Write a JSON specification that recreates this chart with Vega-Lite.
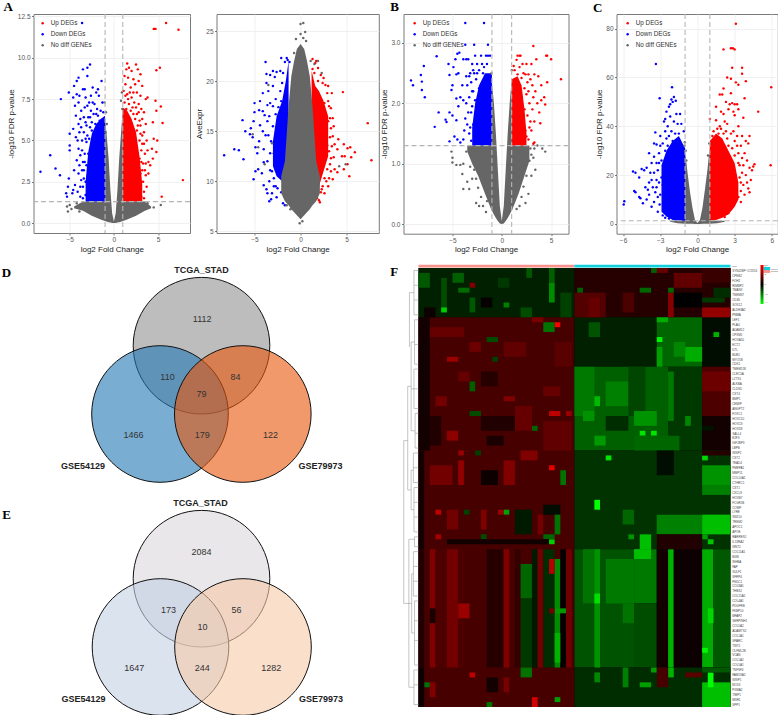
{"$schema":"https://vega.github.io/schema/vega-lite/v6.json","background":"white","padding":{"left":1.5,"top":0,"right":0,"bottom":0},"bounds":"flush","spacing":243,
"config":{"font":"Liberation Sans","view":{"stroke":null},"axis":{"grid":true,"gridColor":"#ececec","gridWidth":0.8,"domain":false,"tickColor":"#444","tickSize":2,"tickWidth":0.7,"labelFont":"Liberation Sans","labelFontSize":6.5,"labelColor":"#555","labelPadding":1.5,"titleFont":"Liberation Sans","titleFontSize":8,"titleFontWeight":"normal","titleColor":"#222","titlePadding":2}},
"resolve":{"scale":{"color":"independent"},"legend":{"color":"independent"}},
"datasets":{
"aG":[{"x":-4.5,"l":0.9,"h":1.0},{"x":-3.5,"l":0.75,"h":1.3},{"x":-2.5,"l":0.45,"h":1.3},{"x":-1.5,"l":0.22,"h":1.3},{"x":-1.02,"l":0.12,"h":1.3},{"x":-1.0,"l":0.12,"h":6.4},{"x":-0.8,"l":0.08,"h":5.2},{"x":-0.6,"l":0.05,"h":3.9},{"x":-0.4,"l":0.03,"h":2.0},{"x":-0.2,"l":0.01,"h":0.6},{"x":0,"l":0,"h":0.1},{"x":0.2,"l":0.01,"h":0.6},{"x":0.4,"l":0.03,"h":2.0},{"x":0.6,"l":0.05,"h":3.9},{"x":0.8,"l":0.08,"h":5.4},{"x":1.0,"l":0.12,"h":6.9},{"x":1.02,"l":0.12,"h":1.3},{"x":1.5,"l":0.22,"h":1.3},{"x":2.5,"l":0.45,"h":1.3},{"x":3.5,"l":0.75,"h":1.3},{"x":4.2,"l":0.9,"h":1.0}],
"aB":[{"x":-3.2,"l":1.3,"h":2.5},{"x":-2.9,"l":1.3,"h":4.3},{"x":-2.5,"l":1.3,"h":5.4},{"x":-2,"l":1.3,"h":6},{"x":-1.5,"l":1.3,"h":6.3},{"x":-1,"l":1.3,"h":6.5}],
"aR":[{"x":1,"l":1.3,"h":7},{"x":1.5,"l":1.3,"h":6.8},{"x":2,"l":1.3,"h":6.3},{"x":2.5,"l":1.3,"h":5.5},{"x":2.9,"l":1.3,"h":4},{"x":3.2,"l":1.3,"h":2.4}],
"au":[{"x":7.3,"y":11.7},{"x":5.9,"y":12.1},{"x":4.7,"y":11.75},{"x":4.5,"y":11.75},{"x":4.6,"y":11.75},{"x":5.2,"y":9.4},{"x":4.8,"y":9.25},{"x":7.8,"y":2.6},{"x":5.4,"y":1.6},{"x":5.5,"y":6.05},{"x":5.3,"y":7.05},{"x":4.8,"y":6.8},{"x":4.7,"y":7.4},{"x":3.8,"y":7.6},{"x":3.6,"y":7.5},{"x":4.4,"y":6.1},{"x":4.5,"y":5.1},{"x":4.9,"y":5},{"x":4.8,"y":4.3},{"x":4.3,"y":4.5},{"x":4.4,"y":3.9},{"x":4.1,"y":3.5},{"x":3.9,"y":3},{"x":3.7,"y":2.2},{"x":3.4,"y":1.9},{"x":3.6,"y":2.9},{"x":3.3,"y":3.6},{"x":3.5,"y":4.2},{"x":3.7,"y":5},{"x":3.4,"y":5.5},{"x":3.6,"y":6},{"x":3.2,"y":6.3},{"x":3.4,"y":6.7},{"x":1.5,"y":9.65},{"x":1.7,"y":9.4},{"x":2,"y":9.2},{"x":1.4,"y":9.3},{"x":2.5,"y":9.6},{"x":2.7,"y":9.3},{"x":3,"y":9},{"x":2.8,"y":8.6},{"x":2.2,"y":8.7},{"x":1.6,"y":8.8},{"x":1.3,"y":8.4},{"x":1.9,"y":8.2},{"x":2.4,"y":8.4},{"x":3.2,"y":8.3},{"x":2.6,"y":7.9},{"x":3,"y":7.7},{"x":1.5,"y":7.8},{"x":2,"y":7.6},{"x":2.3,"y":7.3},{"x":2.8,"y":7.2},{"x":1.2,"y":7.3},{"x":1.7,"y":7.2},{"x":3.1,"y":6.9},{"x":2.6,"y":6.6},{"x":3,"y":5.9},{"x":3.2,"y":5.3},{"x":2.9,"y":5},{"x":3.1,"y":4.4},{"x":2.9,"y":3.9},{"x":3.2,"y":3.2},{"x":2.8,"y":2.8},{"x":3,"y":2.2},{"x":2.8,"y":1.7},{"x":2.6,"y":1.5},{"x":3.1,"y":1.6},{"x":2.7,"y":3.3},{"x":2.5,"y":4.6},{"x":2.6,"y":5.6},{"x":2.4,"y":6.3},{"x":2.9,"y":6.2},{"x":2.2,"y":6.6},{"x":1.4,"y":6.9},{"x":1.9,"y":6.8},{"x":2.4,"y":5.1},{"x":3.3,"y":2.5},{"x":2.7,"y":4.2},{"x":1.1,"y":8},{"x":1.8,"y":7.9},{"x":2.2,"y":7.9},{"x":1.3,"y":7.7},{"x":1.6,"y":7.5},{"x":2.5,"y":7},{"x":2.1,"y":7},{"x":1.2,"y":8.9},{"x":3.5,"y":3.2},{"x":3.1,"y":3.7},{"x":3.4,"y":4.8},{"x":3.2,"y":4.8},{"x":3,"y":5.4},{"x":3,"y":3},{"x":3.4,"y":1.5},{"x":3.6,"y":3.6},{"x":2.8,"y":6.7},{"x":2.7,"y":5.9},{"x":3.8,"y":4.4},{"x":3.9,"y":3.7}],
"ad":[{"x":-8.3,"y":3.1},{"x":-7.2,"y":4.1},{"x":-6.6,"y":3.3},{"x":-6.1,"y":2.9},{"x":-6,"y":7.5},{"x":-5.3,"y":1.6},{"x":-5.1,"y":2.7},{"x":-5.2,"y":2.2},{"x":-5,"y":4.4},{"x":-5,"y":4.7},{"x":-5,"y":5.4},{"x":-5.1,"y":7.9},{"x":-4.6,"y":2},{"x":-4.6,"y":7.6},{"x":-4.5,"y":8.3},{"x":-4.2,"y":8.6},{"x":-4,"y":8.8},{"x":-3.5,"y":9.3},{"x":-3,"y":9.4},{"x":-2.7,"y":9.6},{"x":-3,"y":8.9},{"x":-3.6,"y":12.1},{"x":-1.4,"y":8.6},{"x":-5.4,"y":1.8},{"x":-4.7,"y":1.8},{"x":-4.4,"y":2.3},{"x":-4.1,"y":1.9},{"x":-3.8,"y":1.6},{"x":-3.5,"y":1.5},{"x":-3.2,"y":1.7},{"x":-4.5,"y":3.2},{"x":-4.2,"y":3.8},{"x":-4,"y":3},{"x":-3.7,"y":2.6},{"x":-3.4,"y":3.2},{"x":-3.2,"y":2.5},{"x":-3,"y":1.9},{"x":-4.6,"y":5.7},{"x":-4.3,"y":5.2},{"x":-4,"y":4.5},{"x":-3.8,"y":4.1},{"x":-3.6,"y":5},{"x":-3.3,"y":4.2},{"x":-3.1,"y":3.5},{"x":-4.3,"y":6.5},{"x":-4,"y":6},{"x":-3.7,"y":5.8},{"x":-3.4,"y":5.5},{"x":-3.1,"y":4.9},{"x":-2.9,"y":4.2},{"x":-4.4,"y":7.1},{"x":-4,"y":7.3},{"x":-3.7,"y":6.8},{"x":-3.4,"y":6.4},{"x":-3.1,"y":5.9},{"x":-2.8,"y":5.1},{"x":-4.2,"y":7.8},{"x":-3.9,"y":7.7},{"x":-3.5,"y":8.1},{"x":-3.2,"y":7.6},{"x":-3,"y":7.1},{"x":-2.7,"y":6.4},{"x":-2.5,"y":5.6},{"x":-3.3,"y":8.1},{"x":-2.6,"y":7.7},{"x":-2.4,"y":8.2},{"x":-2,"y":7.9},{"x":-1.8,"y":8.1},{"x":-2.2,"y":7.2},{"x":-1.7,"y":7.7},{"x":-2.3,"y":6.6},{"x":-1.9,"y":6.9},{"x":-1.5,"y":6.8},{"x":-1.2,"y":6.7},{"x":-1.6,"y":6.2},{"x":-2.1,"y":6},{"x":-3.3,"y":7},{"x":-2.8,"y":7.3},{"x":-2.6,"y":6.8},{"x":-1.3,"y":7.3},{"x":-3.8,"y":6.3},{"x":-3.6,"y":4.4},{"x":-3.5,"y":3.7},{"x":-3.3,"y":3.7},{"x":-3.6,"y":3.2},{"x":-3.9,"y":3.5},{"x":-3.5,"y":2.2},{"x":-3.2,"y":5.1},{"x":-3,"y":5.3},{"x":-3.2,"y":6.1},{"x":-2.9,"y":6.4},{"x":-2.7,"y":5.8},{"x":-4.1,"y":5},{"x":-3.9,"y":5.5},{"x":-3.4,"y":2.7},{"x":-3.8,"y":2.2},{"x":-2.4,"y":7.3},{"x":-2,"y":6.6},{"x":-1.8,"y":6.5},{"x":-2.5,"y":6.1}],
"an":[{"x":5.3,"y":1.1},{"x":4.5,"y":0.95},{"x":-5.2,"y":0.7},{"x":-5,"y":1.1},{"x":-4.8,"y":0.85},{"x":-5.3,"y":1},{"x":3.8,"y":1.2},{"x":3.6,"y":0.85},{"x":-3.9,"y":0.7},{"x":-4.2,"y":1.2},{"x":-1.05,"y":7.3},{"x":0.9,"y":7.9},{"x":0.8,"y":7.4},{"x":0.95,"y":6.9},{"x":-0.8,"y":6},{"x":-0.9,"y":6.7},{"x":-0.95,"y":5.5}],
"bG":[{"x":-3.5,"l":1.2,"h":1.3},{"x":-3,"l":1.0,"h":1.3},{"x":-2.4,"l":0.8,"h":1.3},{"x":-1.7,"l":0.5,"h":1.3},{"x":-1.02,"l":0.22,"h":1.3},{"x":-1,"l":0.22,"h":2.35},{"x":-0.8,"l":0.16,"h":2.0},{"x":-0.6,"l":0.1,"h":1.5},{"x":-0.4,"l":0.05,"h":0.9},{"x":-0.2,"l":0.01,"h":0.3},{"x":0,"l":0,"h":0.05},{"x":0.2,"l":0.01,"h":0.3},{"x":0.4,"l":0.05,"h":0.9},{"x":0.6,"l":0.1,"h":1.5},{"x":0.8,"l":0.16,"h":2.0},{"x":1,"l":0.22,"h":2.4},{"x":1.02,"l":0.22,"h":1.3},{"x":1.7,"l":0.5,"h":1.3},{"x":2.3,"l":0.8,"h":1.3},{"x":2.8,"l":1.05,"h":1.3}],
"bB":[{"x":-3,"l":1.3,"h":1.6},{"x":-2.7,"l":1.3,"h":2},{"x":-2.3,"l":1.3,"h":2.3},{"x":-1.7,"l":1.3,"h":2.5},{"x":-1,"l":1.3,"h":2.5}],
"bR":[{"x":1,"l":1.3,"h":2.4},{"x":1.6,"l":1.3,"h":2.45},{"x":2,"l":1.3,"h":2.3},{"x":2.3,"l":1.3,"h":1.9},{"x":2.5,"l":1.3,"h":1.5}],
"bu":[{"x":6,"y":2.4},{"x":5,"y":2.73},{"x":4.6,"y":2.79},{"x":4.5,"y":2.79},{"x":4.6,"y":2.35},{"x":3.2,"y":2.95},{"x":1.6,"y":2.79},{"x":1.8,"y":2.79},{"x":1.9,"y":2.79},{"x":1.5,"y":2.72},{"x":2.1,"y":2.65},{"x":2.5,"y":2.65},{"x":3,"y":2.65},{"x":3.5,"y":2.73},{"x":1.2,"y":2.62},{"x":1.3,"y":2.55},{"x":1.8,"y":2.6},{"x":2.2,"y":2.5},{"x":2.4,"y":2.48},{"x":2.7,"y":2.48},{"x":2.9,"y":2.4},{"x":3.3,"y":2.48},{"x":3.7,"y":2.45},{"x":3.1,"y":2.3},{"x":3.4,"y":2.2},{"x":4,"y":2.3},{"x":4.3,"y":2.1},{"x":4.4,"y":1.98},{"x":4,"y":2.05},{"x":3.8,"y":1.85},{"x":3.6,"y":2},{"x":3.9,"y":1.67},{"x":3.1,"y":1.9},{"x":2.8,"y":2},{"x":2.5,"y":2.15},{"x":2.9,"y":1.7},{"x":2.6,"y":1.8},{"x":2.3,"y":1.9},{"x":3,"y":1.55},{"x":2.5,"y":1.45},{"x":3.3,"y":1.35},{"x":3.2,"y":1.33},{"x":2.2,"y":1.65},{"x":2.4,"y":1.55},{"x":2.3,"y":2.25},{"x":2.6,"y":2.35},{"x":2,"y":2.42},{"x":1.6,"y":2.48},{"x":2.7,"y":2.2},{"x":2.8,"y":1.6},{"x":2.7,"y":1.4},{"x":3.3,"y":1.7},{"x":3.2,"y":2.1}],
"bd":[{"x":-9.2,"y":2.38},{"x":-9,"y":2.3},{"x":-8.2,"y":2.47},{"x":-8.1,"y":2.36},{"x":-8.1,"y":2.22},{"x":-7.9,"y":2.62},{"x":-7.8,"y":2.1},{"x":-6.6,"y":2.78},{"x":-6.4,"y":1.85},{"x":-6.8,"y":1.61},{"x":-5.7,"y":1.73},{"x":-5.6,"y":1.69},{"x":-5.3,"y":1.85},{"x":-5,"y":1.8},{"x":-5.4,"y":2.65},{"x":-5.3,"y":2.47},{"x":-5,"y":2.3},{"x":-5.1,"y":2.22},{"x":-4.9,"y":2.6},{"x":-4.7,"y":2.73},{"x":-4.5,"y":2.82},{"x":-4.3,"y":2.84},{"x":-4.6,"y":2.48},{"x":-4.4,"y":2.5},{"x":-4.8,"y":1.45},{"x":-4.5,"y":1.4},{"x":-5.3,"y":1.37},{"x":-4.2,"y":1.35},{"x":-4.6,"y":1.72},{"x":-4.4,"y":1.95},{"x":-4.6,"y":2.08},{"x":-4.2,"y":2.1},{"x":-4,"y":2.3},{"x":-3.9,"y":2.73},{"x":-3.6,"y":2.73},{"x":-3.4,"y":2.73},{"x":-3.7,"y":2.97},{"x":-2.8,"y":2.97},{"x":-1.4,"y":2.97},{"x":-3.7,"y":3.33},{"x":-1.8,"y":3.33},{"x":-2.7,"y":2.79},{"x":-2.1,"y":2.79},{"x":-1.6,"y":2.79},{"x":-1.4,"y":2.79},{"x":-1.2,"y":2.79},{"x":-3,"y":2.65},{"x":-2.5,"y":2.65},{"x":-2,"y":2.65},{"x":-1.5,"y":2.65},{"x":-3.2,"y":2.5},{"x":-2.8,"y":2.5},{"x":-2.3,"y":2.55},{"x":-1.9,"y":2.5},{"x":-3.5,"y":2.3},{"x":-3.1,"y":2.35},{"x":-2.6,"y":2.4},{"x":-3.6,"y":2},{"x":-3.3,"y":2.1},{"x":-2.9,"y":2.2},{"x":-3.7,"y":1.75},{"x":-3.4,"y":1.85},{"x":-3,"y":1.95},{"x":-2.7,"y":2.05},{"x":-3.8,"y":1.55},{"x":-3.3,"y":1.5},{"x":-2.9,"y":1.65},{"x":-2.5,"y":1.9},{"x":-3.1,"y":1.38},{"x":-2.7,"y":1.45},{"x":-2.3,"y":2.25},{"x":-1.8,"y":2.6},{"x":-3.9,"y":2.05},{"x":-3.5,"y":1.65},{"x":-3.9,"y":1.4},{"x":-3.3,"y":2.45},{"x":-3.6,"y":2.45},{"x":-2.9,"y":2.55},{"x":-2.5,"y":2.5},{"x":-3.2,"y":1.6},{"x":-3,"y":2.2},{"x":-3.1,"y":1.85}],
"bn":[{"x":4.1,"y":1.25},{"x":4.4,"y":1.2},{"x":3.4,"y":0.9},{"x":3.2,"y":1.1},{"x":3.6,"y":1.3},{"x":-5.1,"y":1.2},{"x":-5,"y":1.02},{"x":-4.6,"y":0.98},{"x":-4.2,"y":0.98},{"x":-3.9,"y":1.0},{"x":-5,"y":1.1},{"x":-3.9,"y":0.58},{"x":-4,"y":0.83},{"x":-3.3,"y":0.58},{"x":-3.5,"y":0.7},{"x":-2.6,"y":0.35},{"x":2.7,"y":0.5},{"x":2.5,"y":0.8},{"x":2.8,"y":1.05},{"x":3,"y":0.8},{"x":-1.05,"y":2.5},{"x":1.02,"y":2.55},{"x":-3.6,"y":1.2},{"x":-3.2,"y":0.95},{"x":-3,"y":0.75},{"x":-2.9,"y":1.2},{"x":-2.6,"y":0.75},{"x":-2.4,"y":0.6},{"x":-2.1,"y":0.45},{"x":-2.8,"y":0.9},{"x":-2.3,"y":0.3},{"x":-1.9,"y":0.3},{"x":-1.6,"y":0.2},{"x":-1.5,"y":0.38},{"x":2,"y":0.45},{"x":2.2,"y":0.62},{"x":1.8,"y":0.3},{"x":1.5,"y":0.25},{"x":2.4,"y":0.35},{"x":2.9,"y":1.25},{"x":3.3,"y":1.25},{"x":3,"y":1.15}],
"cG":[{"x":-2.2,"l":0.9,"h":1.3},{"x":-1.6,"l":0.3,"h":1.3},{"x":-1.02,"l":0.1,"h":1.3},{"x":-1,"l":0.1,"h":30},{"x":-0.8,"l":0.08,"h":21},{"x":-0.6,"l":0.05,"h":13},{"x":-0.4,"l":0.03,"h":6.5},{"x":-0.2,"l":0.01,"h":1.6},{"x":0,"l":0,"h":0.4},{"x":0.2,"l":0.01,"h":1.6},{"x":0.4,"l":0.03,"h":6.5},{"x":0.6,"l":0.05,"h":14},{"x":0.8,"l":0.08,"h":22},{"x":1,"l":0.1,"h":32},{"x":1.02,"l":0.1,"h":1.3},{"x":1.6,"l":0.3,"h":1.3},{"x":2.2,"l":0.9,"h":1.3}],
"cB":[{"x":-2.9,"l":5,"h":24},{"x":-2.5,"l":3,"h":30},{"x":-2,"l":1.6,"h":34},{"x":-1.5,"l":1.3,"h":36},{"x":-1,"l":1.3,"h":31}],
"cR":[{"x":1,"l":1.3,"h":34},{"x":1.5,"l":1.6,"h":37},{"x":2,"l":2.5,"h":35},{"x":2.5,"l":4,"h":30},{"x":3,"l":7,"h":25},{"x":3.3,"l":10,"h":17}],
"cu":[{"x":3.1,"y":82},{"x":2.7,"y":72},{"x":2.85,"y":72},{"x":3,"y":71.5},{"x":2.1,"y":71.5},{"x":2.8,"y":64},{"x":3.6,"y":64},{"x":3.6,"y":61.5},{"x":2.4,"y":60},{"x":2.7,"y":59.5},{"x":3.1,"y":58},{"x":3.3,"y":57},{"x":3.9,"y":58.5},{"x":5.95,"y":56},{"x":2.1,"y":55.5},{"x":2,"y":53},{"x":1.8,"y":53},{"x":2.7,"y":53.5},{"x":3.8,"y":51.5},{"x":2.3,"y":50},{"x":2.6,"y":49},{"x":2.8,"y":49.5},{"x":3,"y":49},{"x":3.2,"y":49},{"x":2.5,"y":47},{"x":3.3,"y":47},{"x":1.5,"y":48},{"x":1.9,"y":46},{"x":2.1,"y":45},{"x":2.9,"y":46},{"x":3,"y":44.5},{"x":4.9,"y":46},{"x":3.7,"y":43.5},{"x":1,"y":43},{"x":1.5,"y":42.5},{"x":2.2,"y":42},{"x":2.4,"y":41},{"x":1.8,"y":40},{"x":3.3,"y":40},{"x":1.3,"y":38},{"x":1.7,"y":37},{"x":2.7,"y":37},{"x":3.2,"y":36},{"x":3.6,"y":36},{"x":4.2,"y":36},{"x":3,"y":34},{"x":2.4,"y":35},{"x":3.9,"y":34},{"x":3.5,"y":32},{"x":4.1,"y":33},{"x":2.8,"y":31},{"x":3.3,"y":29},{"x":3.8,"y":29},{"x":2.5,"y":32},{"x":3.6,"y":27},{"x":4,"y":26},{"x":4.6,"y":24.5},{"x":4.5,"y":23.5},{"x":5.9,"y":24},{"x":3.3,"y":25},{"x":4.2,"y":23},{"x":4.4,"y":22},{"x":3.6,"y":21},{"x":3.9,"y":20},{"x":3.4,"y":19},{"x":4,"y":17},{"x":4.3,"y":18},{"x":3.7,"y":16},{"x":4.1,"y":14.5},{"x":4.2,"y":13},{"x":3.5,"y":13.5},{"x":3.8,"y":12},{"x":3.3,"y":11},{"x":3,"y":9.5},{"x":3.5,"y":9},{"x":2.7,"y":6},{"x":2.5,"y":4.5},{"x":2.2,"y":2.8},{"x":3,"y":28},{"x":2.3,"y":38},{"x":1.2,"y":36},{"x":1.9,"y":39},{"x":1.6,"y":39},{"x":2.1,"y":37},{"x":3.4,"y":24},{"x":3.5,"y":17},{"x":3.7,"y":24},{"x":3.2,"y":32},{"x":2.9,"y":38}],
"cd":[{"x":-5.95,"y":8},{"x":-5.9,"y":9.3},{"x":-5.2,"y":21.5},{"x":-5,"y":21},{"x":-5.1,"y":13.5},{"x":-5,"y":13},{"x":-4.7,"y":11},{"x":-4.6,"y":10.5},{"x":-4.7,"y":19},{"x":-4.5,"y":22.5},{"x":-4.3,"y":22},{"x":-4.1,"y":23},{"x":-4.4,"y":8.5},{"x":-4.2,"y":15},{"x":-4,"y":14},{"x":-4.1,"y":10},{"x":-3.9,"y":12},{"x":-3.9,"y":17},{"x":-3.8,"y":21},{"x":-3.7,"y":7},{"x":-3.7,"y":18},{"x":-3.7,"y":25},{"x":-3.9,"y":29},{"x":-3.5,"y":27.5},{"x":-3.4,"y":37.5},{"x":-3.5,"y":33},{"x":-3.3,"y":32.5},{"x":-3.4,"y":13},{"x":-3.5,"y":9},{"x":-3.2,"y":5},{"x":-3.3,"y":18},{"x":-3.1,"y":29},{"x":-3,"y":36},{"x":-3.2,"y":22},{"x":-3,"y":12},{"x":-3.05,"y":8},{"x":-3.35,"y":65.5},{"x":-3.05,"y":51.5},{"x":-2.9,"y":26},{"x":-2.8,"y":33},{"x":-2.7,"y":42},{"x":-2.8,"y":3.5},{"x":-2.6,"y":38},{"x":-2.6,"y":43},{"x":-2.5,"y":35},{"x":-2.4,"y":40},{"x":-2.5,"y":46},{"x":-2.3,"y":48},{"x":-2.2,"y":49},{"x":-2.1,"y":51},{"x":-2,"y":50},{"x":-1.9,"y":52},{"x":-1.75,"y":50.5},{"x":-2.05,"y":56},{"x":-1.7,"y":45},{"x":-1.9,"y":42},{"x":-1.4,"y":45},{"x":-2.2,"y":44},{"x":-2.1,"y":38},{"x":-1.6,"y":41},{"x":-1.3,"y":41},{"x":-1.1,"y":38},{"x":-2.3,"y":36},{"x":-1.8,"y":37},{"x":-1.5,"y":37},{"x":-2.6,"y":30},{"x":-2.4,"y":32},{"x":-2,"y":34},{"x":-2.6,"y":2.5},{"x":-2.3,"y":2.2},{"x":-2.7,"y":22},{"x":-2.8,"y":16},{"x":-2.9,"y":19},{"x":-2.7,"y":11},{"x":-2.5,"y":7},{"x":-3.1,"y":25},{"x":-3.3,"y":15},{"x":-3.1,"y":17},{"x":-3.2,"y":11},{"x":-3.3,"y":25},{"x":-3,"y":32},{"x":-3.5,"y":21},{"x":-3.6,"y":15}],
"cn":[{"x":-1.05,"y":32},{"x":-0.95,"y":30},{"x":0.95,"y":33},{"x":0.85,"y":28},{"x":-1.02,"y":33.5},{"x":-0.9,"y":26}],
"mG":[{"x":-2.1,"l":8.8,"h":10.5},{"x":-1.7,"l":8,"h":12},{"x":-1.3,"l":7.6,"h":17.5},{"x":-1,"l":7.2,"h":20.5},{"x":-0.7,"l":6.9,"h":22},{"x":-0.4,"l":6.6,"h":23.2},{"x":0,"l":6.2,"h":23.7},{"x":0.4,"l":6.6,"h":23.2},{"x":0.7,"l":6.9,"h":22},{"x":1,"l":7.2,"h":20.5},{"x":1.3,"l":7.6,"h":17.5},{"x":1.7,"l":8,"h":12},{"x":2.1,"l":8.8,"h":10.5}],
"mB":[{"x":-3,"l":11.5,"h":14},{"x":-2.6,"l":10.5,"h":16.5},{"x":-2,"l":10,"h":18},{"x":-1.6,"l":9.5,"h":20},{"x":-1.3,"l":12,"h":22}],
"mR":[{"x":1.2,"l":12,"h":21},{"x":1.6,"l":10,"h":19.5},{"x":2,"l":9.5,"h":19},{"x":2.5,"l":11,"h":18},{"x":3,"l":12.5,"h":16.5}],
"mu":[{"x":7.3,"y":15.8},{"x":7.7,"y":12.1},{"x":4.6,"y":18.9},{"x":5.3,"y":10.5},{"x":5.4,"y":13.4},{"x":5.1,"y":13.3},{"x":5.9,"y":12.9},{"x":5.5,"y":12.4},{"x":5.1,"y":11.7},{"x":4.7,"y":11.2},{"x":4.8,"y":12.5},{"x":4.5,"y":12.5},{"x":4.7,"y":13.7},{"x":4.1,"y":14.2},{"x":4,"y":13.2},{"x":4,"y":10.9},{"x":3.7,"y":11.2},{"x":3.5,"y":10.2},{"x":3.3,"y":11},{"x":3.1,"y":10.3},{"x":3,"y":9.5},{"x":3.3,"y":12.3},{"x":3.6,"y":12.4},{"x":3.5,"y":14.5},{"x":3.3,"y":15.3},{"x":3.5,"y":16.3},{"x":3.3,"y":17.3},{"x":3.4,"y":18.8},{"x":3,"y":19.5},{"x":2.9,"y":18.8},{"x":2.7,"y":19.6},{"x":2.5,"y":20.3},{"x":2.4,"y":19.8},{"x":1.9,"y":21.3},{"x":1.6,"y":21.8},{"x":1.3,"y":22.2},{"x":1.5,"y":20.8},{"x":1.9,"y":20},{"x":2.2,"y":20.6},{"x":1.7,"y":22},{"x":1.3,"y":21.2},{"x":3.1,"y":17.5},{"x":3,"y":16},{"x":3.2,"y":14.4},{"x":3.1,"y":13},{"x":2.9,"y":11.2},{"x":2.6,"y":10.3},{"x":2.4,"y":9.5},{"x":2.2,"y":8.9},{"x":2,"y":8.1},{"x":2.1,"y":7.9},{"x":1.8,"y":8.3},{"x":2.6,"y":8.8},{"x":2.8,"y":10},{"x":2.9,"y":13.6},{"x":2.7,"y":15},{"x":2.6,"y":17.8},{"x":3.2,"y":16.3},{"x":3.4,"y":13.5},{"x":3.2,"y":11.7},{"x":3.7,"y":13.7},{"x":3.6,"y":15.5},{"x":3,"y":18},{"x":2.3,"y":9.2}],
"md":[{"x":-8.3,"y":12.6},{"x":-7.2,"y":13.2},{"x":-6.7,"y":13.1},{"x":-6.2,"y":12.2},{"x":-6.3,"y":16.1},{"x":-6,"y":15},{"x":-5.5,"y":14.7},{"x":-5.2,"y":14.4},{"x":-5.4,"y":15.3},{"x":-5.1,"y":16},{"x":-5,"y":16.9},{"x":-5,"y":17.8},{"x":-4.9,"y":13.4},{"x":-4.7,"y":12.8},{"x":-5.1,"y":10.2},{"x":-4.9,"y":11},{"x":-4.6,"y":11.2},{"x":-4.5,"y":14},{"x":-4.4,"y":15.6},{"x":-4.5,"y":17.1},{"x":-4.4,"y":18},{"x":-4.1,"y":18.8},{"x":-4.1,"y":17},{"x":-4.1,"y":15},{"x":-4,"y":13.2},{"x":-4,"y":11.9},{"x":-4.2,"y":10.8},{"x":-4,"y":9.6},{"x":-3.7,"y":9.2},{"x":-3.6,"y":8.8},{"x":-3.4,"y":8},{"x":-3.2,"y":8.2},{"x":-3.1,"y":8.8},{"x":-2.9,"y":9.5},{"x":-3.8,"y":21.9},{"x":-3.7,"y":20.7},{"x":-3.7,"y":19.8},{"x":-3.5,"y":19},{"x":-3.6,"y":17.6},{"x":-3.6,"y":16},{"x":-3.5,"y":14.6},{"x":-3.3,"y":12.8},{"x":-3.3,"y":11.1},{"x":-3.4,"y":10},{"x":-3.3,"y":20.6},{"x":-3,"y":21},{"x":-3,"y":19.5},{"x":-3,"y":17.5},{"x":-3,"y":15.5},{"x":-2.8,"y":20.4},{"x":-2.7,"y":18.2},{"x":-2.7,"y":16.7},{"x":-2.7,"y":9.5},{"x":-2.6,"y":8.4},{"x":-2.6,"y":20.9},{"x":-2.2,"y":21},{"x":-2,"y":19.8},{"x":-2.2,"y":19},{"x":-1.9,"y":20.8},{"x":-2.1,"y":18},{"x":-1.7,"y":21.9},{"x":-1.5,"y":22.3},{"x":-1.4,"y":22.1},{"x":-1.2,"y":21.9},{"x":-2.1,"y":22.3},{"x":-2.4,"y":17.4},{"x":-2.6,"y":12},{"x":-2.9,"y":12.8},{"x":-2.5,"y":9.3},{"x":-2.1,"y":8.9},{"x":-1.9,"y":7.8},{"x":-1.7,"y":7.6},{"x":-3.4,"y":16.5},{"x":-3.2,"y":14},{"x":-3.6,"y":12},{"x":-3.3,"y":17.8},{"x":-3.8,"y":14.6},{"x":-3.9,"y":16.6},{"x":-3.1,"y":11},{"x":-2.9,"y":10.3}],
"mn":[{"x":-3.5,"y":19.6},{"x":-5.2,"y":14.7},{"x":-4.6,"y":13.4},{"x":-3.9,"y":11.7},{"x":-3.1,"y":13.8},{"x":2.3,"y":20.8},{"x":1.9,"y":22},{"x":1.5,"y":21.7},{"x":4.2,"y":11.5},{"x":4.9,"y":11.7},{"x":-0.5,"y":24.2},{"x":0,"y":25.7},{"x":0.3,"y":25.8},{"x":0.5,"y":24.9},{"x":0,"y":24.7},{"x":0.3,"y":24.3},{"x":-0.1,"y":5.8},{"x":0.2,"y":6},{"x":-0.7,"y":22.8},{"x":0.6,"y":24},{"x":-1.1,"y":7.2},{"x":-1.5,"y":7.6},{"x":1.3,"y":7.9},{"x":1.1,"y":22}],
"ven":[{"k":"dT","x":201,"y":343.7},{"k":"dL","x":159.5,"y":412},{"k":"dR","x":242.3,"y":412},{"k":"eT","x":201,"y":576.7},{"k":"eL","x":160,"y":645},{"k":"eR","x":242.5,"y":645}],
"vt":[{"x":201.7,"y":316.7,"t":"1112"},{"x":167,"y":375,"t":"110"},{"x":235,"y":375,"t":"84"},{"x":201,"y":392,"t":"79"},{"x":133,"y":433,"t":"1466"},{"x":201.7,"y":433,"t":"179"},{"x":270,"y":433,"t":"122"},{"x":201,"y":549.5,"t":"2084"},{"x":168,"y":608,"t":"173"},{"x":236,"y":608,"t":"56"},{"x":202,"y":625,"t":"10"},{"x":133.7,"y":666,"t":"1647"},{"x":201.7,"y":666,"t":"244"},{"x":270.7,"y":666,"t":"1282"}],
"vl":[{"x":201,"y":268,"t":"TCGA_STAD"},{"x":82.5,"y":463.5,"t":"GSE54129"},{"x":320,"y":463.5,"t":"GSE79973"},{"x":200,"y":501,"t":"TCGA_STAD"},{"x":83,"y":696.5,"t":"GSE54129"},{"x":320.5,"y":696.5,"t":"GSE79973"}],
"lt":[{"x":6,"y":271,"t":"D"},{"x":6,"y":513,"t":"E"}],
"hm":[{"a":0,"b":55,"s":0,"e":89,"v":0},{"a":0,"b":27.5,"s":0,"e":10,"v":-0.5},{"a":27.5,"b":55,"s":0,"e":10,"v":0.6},{"a":0,"b":27.5,"s":10,"e":89,"v":1.1},{"a":27.5,"b":42,"s":10,"e":20,"v":-0.5},{"a":42,"b":50,"s":10,"e":20,"v":-1.6},{"a":50,"b":55,"s":10,"e":20,"v":-0.2},{"a":27.5,"b":44,"s":20,"e":37,"v":-1.5},{"a":44,"b":50,"s":20,"e":37,"v":-0.9},{"a":50,"b":55,"s":20,"e":30,"v":1.2},{"a":50,"b":55,"s":30,"e":37,"v":0.3},{"a":27.5,"b":55,"s":37,"e":57,"v":-0.8},{"a":27.5,"b":38,"s":57,"e":81,"v":-1.3},{"a":38,"b":42,"s":57,"e":68,"v":-1.9},{"a":38,"b":42,"s":68,"e":81,"v":-1.2},{"a":42,"b":44,"s":57,"e":81,"v":0.3},{"a":44,"b":45,"s":57,"e":81,"v":-2.8},{"a":45,"b":50,"s":57,"e":81,"v":0.2},{"a":50,"b":52,"s":57,"e":81,"v":-2.7},{"a":52,"b":55,"s":57,"e":81,"v":-1.4},{"a":27.5,"b":55,"s":81,"e":89,"v":-0.7},
{"a":0,"b":2,"s":10,"e":37,"v":0.3},{"a":0,"b":1,"s":57,"e":81,"v":0.5},{"a":2,"b":3,"s":57,"e":81,"v":2},{"a":3,"b":5,"s":57,"e":81,"v":1.2},{"a":5,"b":7,"s":57,"e":81,"v":1.8},{"a":7,"b":8,"s":57,"e":81,"v":1.2},{"a":12,"b":15,"s":57,"e":81,"v":0.6},{"a":15,"b":16,"s":57,"e":81,"v":2},{"a":17,"b":18,"s":57,"e":81,"v":0.8},{"a":18,"b":20,"s":60,"e":67,"v":-1.6},{"a":18,"b":20,"s":67,"e":81,"v":-0.9},{"a":20,"b":21,"s":57,"e":81,"v":-0.4},{"a":21,"b":22,"s":57,"e":81,"v":1.8},{"a":22,"b":24,"s":57,"e":81,"v":-0.7},{"a":24,"b":25,"s":59,"e":81,"v":-2.2},{"a":25,"b":26,"s":57,"e":81,"v":0.1},{"a":26,"b":27,"s":57,"e":81,"v":1.8},{"a":29,"b":31,"s":57,"e":68,"v":-1.8},{"a":31,"b":32,"s":57,"e":81,"v":-2.3},{"a":33,"b":38,"s":59,"e":68,"v":-1.9},{"a":38,"b":41,"s":57,"e":59,"v":-3},
{"a":0,"b":2,"s":1,"e":4,"v":-1.4},{"a":4,"b":5,"s":2,"e":9,"v":-1.2},{"a":4,"b":5,"s":8,"e":9,"v":-3.2},{"a":9,"b":10,"s":3,"e":4,"v":2},{"a":6,"b":8,"s":1,"e":3,"v":-1.5},{"a":7,"b":9,"s":4,"e":5,"v":-1.7},{"a":9,"b":10,"s":6,"e":9,"v":-1.4},{"a":15,"b":16,"s":7,"e":8,"v":-2},{"a":19,"b":20,"s":0,"e":2,"v":-1.4},{"a":23,"b":24,"s":0,"e":3,"v":-1.5},{"a":23,"b":24,"s":3,"e":7,"v":-2.2},{"a":25,"b":27,"s":5,"e":10,"v":-1},{"a":14,"b":16,"s":2,"e":4,"v":-0.9},{"a":11,"b":13,"s":6,"e":8,"v":0.1},{"a":1,"b":3,"s":8,"e":10,"v":0.2},{"a":18,"b":20,"s":8,"e":10,"v":-1.2},
{"a":27.5,"b":33,"s":5,"e":10,"v":1.3},{"a":30,"b":32,"s":6,"e":10,"v":1.6},{"a":36,"b":38,"s":5,"e":9,"v":1.2},{"a":44,"b":45,"s":5,"e":10,"v":2.1},{"a":45,"b":50,"s":1,"e":4,"v":1.5},{"a":41,"b":44,"s":0,"e":1,"v":1.6},{"a":50,"b":55,"s":8,"e":10,"v":2.3},{"a":50,"b":55,"s":0,"e":3,"v":0.9},{"a":45,"b":50,"s":5,"e":8,"v":0},{"a":50,"b":54,"s":6,"e":7,"v":-0.9},{"a":39,"b":41,"s":4,"e":5,"v":-1.6},{"a":44,"b":45,"s":4,"e":5,"v":-1.6},{"a":28,"b":29,"s":4,"e":5,"v":-1.5},{"a":41,"b":42,"s":0,"e":1,"v":-1.5},{"a":52,"b":55,"s":4,"e":6,"v":-0.7},
{"a":24,"b":25,"s":11,"e":12,"v":4},{"a":22,"b":24,"s":11,"e":13,"v":-1.8},{"a":20,"b":22,"s":10,"e":11,"v":1.9},{"a":2,"b":8,"s":12,"e":14,"v":1.6},{"a":9,"b":11,"s":15,"e":17,"v":1.7},{"a":15,"b":19,"s":15,"e":18,"v":1.5},{"a":5,"b":7,"s":18,"e":19,"v":2.4},{"a":13,"b":14,"s":18,"e":19,"v":-1},{"a":12,"b":14,"s":14,"e":15,"v":-1.2},{"a":24,"b":27,"s":15,"e":20,"v":1.4},{"a":9,"b":10,"s":23,"e":25,"v":-1.5},{"a":9,"b":11,"s":29,"e":30,"v":-1.2},{"a":23,"b":25,"s":29,"e":30,"v":3},{"a":26,"b":27,"s":29,"e":30,"v":2.4},{"a":20,"b":21,"s":32,"e":33,"v":-1.6},{"a":5,"b":7,"s":33,"e":35,"v":2.2},{"a":15,"b":17,"s":26,"e":27,"v":2},{"a":3,"b":5,"s":26,"e":28,"v":1.8},{"a":22,"b":25,"s":24,"e":26,"v":1.6},{"a":7,"b":9,"s":21,"e":23,"v":1.6},{"a":11,"b":14,"s":21,"e":24,"v":0.6},{"a":17,"b":20,"s":28,"e":33,"v":1.6},{"a":11,"b":17,"s":30,"e":33,"v":0.5},{"a":22,"b":27,"s":31,"e":37,"v":1.5},{"a":12,"b":15,"s":34,"e":36,"v":0.4},{"a":2,"b":4,"s":30,"e":36,"v":0.5},
{"a":42,"b":43,"s":14,"e":15,"v":-3.8},{"a":42,"b":44,"s":10,"e":11,"v":-2.7},{"a":47,"b":50,"s":16,"e":19,"v":-2.7},{"a":42,"b":43,"s":16,"e":20,"v":-2.5},{"a":52,"b":53,"s":13,"e":14,"v":-2.8},{"a":45,"b":47,"s":15,"e":18,"v":-2.1},{"a":30,"b":32,"s":11,"e":14,"v":-1.3},{"a":27.5,"b":31,"s":20,"e":30,"v":-1.9},{"a":31,"b":32,"s":26,"e":28,"v":-2.9},{"a":33,"b":37,"s":23,"e":28,"v":-2},{"a":37,"b":40,"s":20,"e":30,"v":-1.1},{"a":44,"b":45,"s":21,"e":31,"v":-1.9},{"a":50,"b":55,"s":21,"e":25,"v":1.7},{"a":39,"b":40,"s":33,"e":34,"v":-3.6},{"a":41,"b":42,"s":33,"e":34,"v":-3.6},{"a":38,"b":42,"s":29,"e":32,"v":-2.3},{"a":47,"b":48,"s":30,"e":32,"v":-2.1},{"a":29,"b":31,"s":29,"e":31,"v":-2.3},{"a":31,"b":33,"s":34,"e":36,"v":-2.4},{"a":38,"b":46,"s":34,"e":37,"v":-1.6},{"a":33,"b":37,"s":30,"e":33,"v":-0.7},{"a":50,"b":52,"s":32,"e":33,"v":-0.3},
{"a":7,"b":8,"s":37,"e":38,"v":2.4},{"a":18,"b":21,"s":37,"e":39,"v":2},{"a":23,"b":24,"s":40,"e":41,"v":3.6},{"a":25,"b":26,"s":41,"e":44,"v":-1.8},{"a":7,"b":8,"s":39,"e":44,"v":2.3},{"a":0,"b":1,"s":37,"e":57,"v":0.3},{"a":10,"b":11,"s":37,"e":38,"v":-1},{"a":15,"b":17,"s":39,"e":44,"v":2},{"a":2,"b":6,"s":40,"e":44,"v":1.8},{"a":11,"b":14,"s":41,"e":44,"v":0.2},{"a":33,"b":34,"s":38,"e":39,"v":-3.6},{"a":50,"b":51,"s":38,"e":39,"v":-3.4},{"a":50,"b":55,"s":40,"e":44,"v":-2.3},{"a":42,"b":45,"s":37,"e":42,"v":-0.2},{"a":50,"b":55,"s":37,"e":38,"v":0.6},
{"a":50,"b":55,"s":44,"e":46,"v":-2},{"a":31,"b":32,"s":47,"e":49,"v":-4.5},{"a":3,"b":4,"s":49,"e":50,"v":3},{"a":15,"b":16,"s":49,"e":50,"v":-2.6},{"a":42,"b":50,"s":50,"e":54,"v":-2},{"a":50,"b":55,"s":50,"e":54,"v":-3},{"a":36,"b":38,"s":49,"e":52,"v":-1.6},{"a":8,"b":9,"s":49,"e":50,"v":-1},{"a":22,"b":25,"s":48,"e":50,"v":-0.2},{"a":17,"b":20,"s":49,"e":54,"v":-0.4},{"a":21,"b":22,"s":50,"e":54,"v":1.8},{"a":24,"b":25,"s":50,"e":54,"v":-1.8},{"a":5,"b":7,"s":49,"e":53,"v":1.8},{"a":11,"b":12,"s":49,"e":53,"v":2},{"a":14,"b":15,"s":49,"e":50,"v":2.4},{"a":23,"b":24,"s":55,"e":56,"v":-3.2},{"a":39,"b":41,"s":54,"e":57,"v":-3},{"a":3,"b":4,"s":54,"e":55,"v":2.6},{"a":11,"b":12,"s":54,"e":55,"v":-1.2},{"a":22,"b":24,"s":54,"e":55,"v":-1.6},{"a":37,"b":38,"s":54,"e":55,"v":-2.3},{"a":50,"b":51,"s":54,"e":55,"v":-2.5},{"a":51,"b":52,"s":55,"e":56,"v":-3.1},{"a":42,"b":50,"s":54,"e":57,"v":0.5},{"a":5,"b":23,"s":55,"e":56,"v":0.3},
{"a":31,"b":32,"s":66,"e":68,"v":-3.5},{"a":50,"b":51,"s":77,"e":78,"v":-3.9},{"a":51,"b":52,"s":69,"e":72,"v":-3.4},{"a":24,"b":26,"s":69,"e":70,"v":-2.4},{"a":23,"b":24,"s":69,"e":70,"v":1.8},{"a":23,"b":24,"s":59,"e":62,"v":2.8},{"a":7,"b":9,"s":68,"e":71,"v":2.4},{"a":2,"b":3,"s":69,"e":72,"v":0.4},{"a":36,"b":38,"s":68,"e":72,"v":-1.8},{"a":24,"b":25,"s":74,"e":80,"v":-2.8},
{"a":9,"b":10,"s":82,"e":83,"v":3},{"a":1,"b":2,"s":84,"e":85,"v":-1.8},{"a":20,"b":21,"s":87,"e":89,"v":3.3},{"a":12,"b":13,"s":88,"e":89,"v":-1.8},{"a":24,"b":25,"s":87,"e":88,"v":-2.5},{"a":50,"b":55,"s":84,"e":89,"v":-3},{"a":51,"b":52,"s":82,"e":85,"v":-5},{"a":44,"b":45,"s":81,"e":83,"v":-2.8},{"a":36,"b":37,"s":81,"e":85,"v":-2},{"a":31,"b":32,"s":82,"e":84,"v":-2.1},{"a":39,"b":41,"s":84,"e":85,"v":-2.5},{"a":41,"b":42,"s":81,"e":82,"v":-2.5},{"a":42,"b":44,"s":81,"e":85,"v":1.1},{"a":47,"b":50,"s":82,"e":83,"v":1.4},{"a":50,"b":55,"s":81,"e":82,"v":-1.4},{"a":18,"b":20,"s":81,"e":83,"v":-1.8},{"a":2,"b":3,"s":84,"e":87,"v":2},{"a":15,"b":16,"s":83,"e":86,"v":1.9},{"a":0,"b":1,"s":81,"e":89,"v":0.2},{"a":12,"b":14,"s":83,"e":86,"v":0.3}],
"gn":[{"r":0.5,"g":"SYNJ2BP−COX16"},{"r":1.5,"g":"CPEB2"},{"r":2.5,"g":"FOH2"},{"r":3.5,"g":"RIMBP2"},{"r":4.5,"g":"TMASK"},{"r":5.5,"g":"TNEM37"},{"r":6.5,"g":"CD36"},{"r":7.5,"g":"SOX12"},{"r":8.5,"g":"ALDH3A2"},{"r":9.5,"g":"PNMA"},{"r":10.5,"g":"LEF1"},{"r":11.5,"g":"PLAU"},{"r":12.5,"g":"ADAM12"},{"r":13.5,"g":"CPXM1"},{"r":14.5,"g":"HOXA10"},{"r":15.5,"g":"ECT2"},{"r":16.5,"g":"DTL"},{"r":17.5,"g":"BUB1"},{"r":18.5,"g":"MYO1B"},{"r":19.5,"g":"CDK1"},{"r":20.5,"g":"TMEM158"},{"r":21.5,"g":"CLEC5A"},{"r":22.5,"g":"LZTS1"},{"r":23.5,"g":"ALKBA"},{"r":24.5,"g":"CLDN1"},{"r":25.5,"g":"CST4"},{"r":26.5,"g":"BMP1"},{"r":27.5,"g":"CEMIP"},{"r":28.5,"g":"ANGPT2"},{"r":29.5,"g":"FOXC1"},{"r":30.5,"g":"HOXC10"},{"r":31.5,"g":"HOXC9"},{"r":32.5,"g":"HOXD8"},{"r":33.5,"g":"SALL4"},{"r":34.5,"g":"E2F3"},{"r":35.5,"g":"IGF2BP3"},{"r":36.5,"g":"LBPB"},{"r":37.5,"g":"WISP2"},{"r":38.5,"g":"CST2"},{"r":39.5,"g":"TEAD4"},{"r":40.5,"g":"PMEPA1"},{"r":41.5,"g":"MMP11"},{"r":42.5,"g":"COL10A1"},{"r":43.5,"g":"CTHRC1"},{"r":44.5,"g":"CST1"},{"r":45.5,"g":"CXCL8"},{"r":46.5,"g":"HOXB7"},{"r":47.5,"g":"FCGR1B"},{"r":48.5,"g":"COMP"},{"r":49.5,"g":"LYRE"},{"r":50.5,"g":"SNX10"},{"r":51.5,"g":"TREM2"},{"r":52.5,"g":"APOC1"},{"r":53.5,"g":"APOE"},{"r":54.5,"g":"RARRES1"},{"r":55.5,"g":"IL13RA2"},{"r":56.5,"g":"WNT2"},{"r":57.5,"g":"COL11A1"},{"r":58.5,"g":"BGN"},{"r":59.5,"g":"INHBA"},{"r":60.5,"g":"FAP"},{"r":61.5,"g":"SULF1"},{"r":62.5,"g":"SFRP4"},{"r":63.5,"g":"FNDC1"},{"r":64.5,"g":"COL8A1"},{"r":65.5,"g":"THBS2"},{"r":66.5,"g":"COL15A1"},{"r":67.5,"g":"COL4A1"},{"r":68.5,"g":"PDGFRB"},{"r":69.5,"g":"FKBP10"},{"r":70.5,"g":"MFAP2"},{"r":71.5,"g":"SERPINH1"},{"r":72.5,"g":"COL5A2"},{"r":73.5,"g":"ADAMTS2"},{"r":74.5,"g":"COL1A1"},{"r":75.5,"g":"SPARC"},{"r":76.5,"g":"TWY1"},{"r":77.5,"g":"OLFML2B"},{"r":78.5,"g":"VCAN"},{"r":79.5,"g":"COL1A2"},{"r":80.5,"g":"COL5A1"},{"r":81.5,"g":"TNFSF4"},{"r":82.5,"g":"FAM19A5"},{"r":83.5,"g":"WISP1"},{"r":84.5,"g":"NOX4"},{"r":85.5,"g":"PXMA2"},{"r":86.5,"g":"TIMP1"},{"r":87.5,"g":"MSR1"},{"r":88.5,"g":"SPP1"}],
"tree":[{"a":-0.8,"b":-0.8,"s":0.5,"e":9.5},{"a":-0.8,"b":0,"s":0.5,"e":0.5},{"a":-0.8,"b":0,"s":3.5,"e":3.5},{"a":-0.8,"b":0,"s":6.5,"e":6.5},{"a":-0.8,"b":0,"s":9.5,"e":9.5},{"a":-1.6,"b":-0.8,"s":5,"e":5},{"a":-0.7,"b":-0.7,"s":10.5,"e":19.5},{"a":-0.7,"b":0,"s":10.5,"e":10.5},{"a":-0.7,"b":0,"s":15.5,"e":15.5},{"a":-0.7,"b":0,"s":19.5,"e":19.5},{"a":-1.3,"b":-0.7,"s":15,"e":15},{"a":-0.8,"b":-0.8,"s":20.5,"e":28.5},{"a":-0.8,"b":0,"s":20.5,"e":20.5},{"a":-0.8,"b":0,"s":24.5,"e":24.5},{"a":-0.8,"b":0,"s":28.5,"e":28.5},{"a":-1.3,"b":-0.8,"s":24.5,"e":24.5},{"a":-0.6,"b":-0.6,"s":29.5,"e":36.5},{"a":-0.6,"b":0,"s":29.5,"e":29.5},{"a":-0.6,"b":0,"s":33.5,"e":33.5},{"a":-0.6,"b":0,"s":36.5,"e":36.5},{"a":-1.3,"b":-0.6,"s":33,"e":33},{"a":-1.3,"b":-1.3,"s":15,"e":33},{"a":-1.9,"b":-1.3,"s":24,"e":24},{"a":-1.6,"b":-1.6,"s":5,"e":16},{"a":-0.9,"b":-0.9,"s":37.5,"e":43.5},{"a":-0.9,"b":0,"s":37.5,"e":37.5},{"a":-0.9,"b":0,"s":40.5,"e":40.5},{"a":-0.9,"b":0,"s":43.5,"e":43.5},{"a":-1.3,"b":-0.9,"s":41,"e":41},{"a":-0.8,"b":-0.8,"s":44.5,"e":53.5},{"a":-0.8,"b":0,"s":44.5,"e":44.5},{"a":-0.8,"b":0,"s":47.5,"e":47.5},{"a":-0.8,"b":0,"s":50.5,"e":50.5},{"a":-0.8,"b":0,"s":53.5,"e":53.5},{"a":-1.3,"b":-0.8,"s":49,"e":49},{"a":-1.3,"b":-1.3,"s":41,"e":49},{"a":-1.9,"b":-1.3,"s":45,"e":45},{"a":-1.9,"b":-1.9,"s":24,"e":45},{"a":-0.7,"b":-0.7,"s":54.5,"e":56.5},{"a":-0.7,"b":0,"s":54.5,"e":54.5},{"a":-0.7,"b":0,"s":56.5,"e":56.5},{"a":-0.9,"b":-0.9,"s":57.5,"e":66.5},{"a":-0.9,"b":0,"s":57.5,"e":57.5},{"a":-0.9,"b":0,"s":60.5,"e":60.5},{"a":-0.9,"b":0,"s":63.5,"e":63.5},{"a":-0.9,"b":0,"s":66.5,"e":66.5},{"a":-0.7,"b":-0.7,"s":67.5,"e":80.5},{"a":-0.7,"b":0,"s":67.5,"e":67.5},{"a":-0.7,"b":0,"s":71.5,"e":71.5},{"a":-0.7,"b":0,"s":75.5,"e":75.5},{"a":-0.7,"b":0,"s":80.5,"e":80.5},{"a":-1.2,"b":-0.9,"s":62,"e":62},{"a":-1.2,"b":-0.7,"s":74,"e":74},{"a":-1.2,"b":-1.2,"s":62,"e":74},{"a":-0.8,"b":-0.8,"s":81.5,"e":88.5},{"a":-0.8,"b":0,"s":81.5,"e":81.5},{"a":-0.8,"b":0,"s":84.5,"e":84.5},{"a":-0.8,"b":0,"s":88.5,"e":88.5},{"a":-1.7,"b":-1.2,"s":68,"e":68},{"a":-1.7,"b":-0.8,"s":85,"e":85},{"a":-1.7,"b":-1.7,"s":55,"e":85},{"a":-1.7,"b":-0.7,"s":55,"e":55},{"a":-2.6,"b":-1.9,"s":35,"e":35},{"a":-2.6,"b":-1.7,"s":68,"e":68},{"a":-2.6,"b":-2.6,"s":35,"e":68}],
"ann":[{"a":0,"b":27.5,"s":-0.65,"e":-0.1,"k":"Normal"},{"a":27.5,"b":55,"s":-0.65,"e":-0.1,"k":"Tumor"},{"a":60.8,"b":62,"s":-0.2,"e":0.4,"k":"Tumor"},{"a":60.8,"b":62,"s":0.4,"e":1,"k":"Normal"}],
"annt":[{"c":55.3,"r":-0.4,"t":"Type"},{"c":60.8,"r":-0.55,"t":"Type"},{"c":62.2,"r":0.1,"t":"Tumor"},{"c":62.2,"r":0.7,"t":"Normal"}]
},
"vconcat":[
{"bounds":"flush","spacing":26,"resolve":{"scale":{"color":"independent"},"legend":{"color":"independent"}},"hconcat":[
{"width":156.5,"height":219,"view":{"stroke":"#7a7a7a"},"layer":[
{"data":{"name":"aG"},"mark":{"type":"area","color":"#666"},"encoding":{"x":{"field":"x","type":"quantitative","scale":{"domain":[-9.09,8.6],"nice":false,"zero":false},"axis":{"values":[-5,0,5],"title":"log2 Fold Change"}},"y":{"field":"l","type":"quantitative","scale":{"domain":[-0.6,12.65],"nice":false,"zero":false},"axis":{"values":[0,2.5,5,7.5,10,12.5],"format":".1f","title":"-log10 FDR p-value"}},"y2":{"field":"h"}}},
{"data":{"name":"aB"},"mark":{"type":"area","color":"#0000ff"},"encoding":{"x":{"field":"x","type":"quantitative"},"y":{"field":"l","type":"quantitative"},"y2":{"field":"h"}}},
{"data":{"name":"aR"},"mark":{"type":"area","color":"#ff0000"},"encoding":{"x":{"field":"x","type":"quantitative"},"y":{"field":"l","type":"quantitative"},"y2":{"field":"h"}}},
{"data":{"name":"an"},"mark":{"type":"point","filled":true,"size":6,"opacity":1},"encoding":{"x":{"field":"x","type":"quantitative"},"y":{"field":"y","type":"quantitative"},"color":{"datum":"No diff GENEs","type":"nominal","scale":{"domain":["Up DEGs","Down DEGs","No diff GENEs"],"range":["#ff0000","#0000ff","#666666"]},"legend":{"orient":"none","legendX":6,"legendY":6,"title":null,"symbolType":"circle","symbolSize":6,"labelFontSize":6.3,"labelColor":"#333","labelFont":"Liberation Sans","rowPadding":4,"symbolOffset":0,"labelOffset":5}}}},
{"data":{"name":"ad"},"mark":{"type":"point","filled":true,"size":6,"opacity":1},"encoding":{"x":{"field":"x","type":"quantitative"},"y":{"field":"y","type":"quantitative"},"color":{"datum":"Down DEGs","type":"nominal"}}},
{"data":{"name":"au"},"mark":{"type":"point","filled":true,"size":6,"opacity":1},"encoding":{"x":{"field":"x","type":"quantitative"},"y":{"field":"y","type":"quantitative"},"color":{"datum":"Up DEGs","type":"nominal"}}},
{"data":{"values":[{"x":-1},{"x":1}]},"mark":{"type":"rule","color":"#b5b5b5","strokeDash":[5,3],"strokeWidth":1.1},"encoding":{"x":{"field":"x","type":"quantitative"}}},
{"data":{"values":[{"y":1.3}]},"mark":{"type":"rule","color":"#b5b5b5","strokeDash":[5,3],"strokeWidth":1.1},"encoding":{"y":{"field":"y","type":"quantitative"}}},
{"data":{"values":[{"x":-11.95,"y":13.05,"t":"A"}]},"mark":{"type":"text","fontSize":13,"fontWeight":"bold","color":"#000","font":"Liberation Serif"},"encoding":{"x":{"field":"x","type":"quantitative"},"y":{"field":"y","type":"quantitative"},"text":{"field":"t"}}}
]},
{"bounds":"flush","spacing":24,"resolve":{"scale":{"color":"independent"},"legend":{"color":"independent"}},"hconcat":[
{"width":162.3,"height":219,"view":{"stroke":"#7a7a7a"},"layer":[
{"data":{"name":"mB"},"mark":{"type":"area","color":"#0000ff"},"encoding":{"x":{"field":"x","type":"quantitative","scale":{"domain":[-9.13,8.5],"nice":false,"zero":false},"axis":{"values":[-5,0,5],"title":"log2 Fold Change"}},"y":{"field":"l","type":"quantitative","scale":{"domain":[4.83,26.7],"nice":false,"zero":false},"axis":{"values":[5,10,15,20,25],"title":"AveExpr"}},"y2":{"field":"h"}}},
{"data":{"name":"mR"},"mark":{"type":"area","color":"#ff0000"},"encoding":{"x":{"field":"x","type":"quantitative"},"y":{"field":"l","type":"quantitative"},"y2":{"field":"h"}}},
{"data":{"name":"md"},"mark":{"type":"point","filled":true,"size":6,"opacity":1,"color":"#0000ff"},"encoding":{"x":{"field":"x","type":"quantitative"},"y":{"field":"y","type":"quantitative"}}},
{"data":{"name":"mu"},"mark":{"type":"point","filled":true,"size":6,"opacity":1,"color":"#ff0000"},"encoding":{"x":{"field":"x","type":"quantitative"},"y":{"field":"y","type":"quantitative"}}},
{"data":{"name":"mG"},"mark":{"type":"area","color":"#666"},"encoding":{"x":{"field":"x","type":"quantitative"},"y":{"field":"l","type":"quantitative"},"y2":{"field":"h"}}},
{"data":{"name":"mn"},"mark":{"type":"point","filled":true,"size":6,"opacity":1,"color":"#666"},"encoding":{"x":{"field":"x","type":"quantitative"},"y":{"field":"y","type":"quantitative"}}}
]},
{"bounds":"flush","spacing":48,"resolve":{"scale":{"color":"independent"},"legend":{"color":"independent"}},"hconcat":[
{"width":165,"height":219.7,"view":{"stroke":"#7a7a7a"},"layer":[
{"data":{"name":"bG"},"mark":{"type":"area","color":"#666"},"encoding":{"x":{"field":"x","type":"quantitative","scale":{"domain":[-9.96,6.76],"nice":false,"zero":false},"axis":{"values":[-5,0,5],"title":"log2 Fold Change"}},"y":{"field":"l","type":"quantitative","scale":{"domain":[-0.16,3.48],"nice":false,"zero":false},"axis":{"values":[0,1,2,3],"title":"-log10 FDR p-value"}},"y2":{"field":"h"}}},
{"data":{"name":"bB"},"mark":{"type":"area","color":"#0000ff"},"encoding":{"x":{"field":"x","type":"quantitative"},"y":{"field":"l","type":"quantitative"},"y2":{"field":"h"}}},
{"data":{"name":"bR"},"mark":{"type":"area","color":"#ff0000"},"encoding":{"x":{"field":"x","type":"quantitative"},"y":{"field":"l","type":"quantitative"},"y2":{"field":"h"}}},
{"data":{"name":"bn"},"mark":{"type":"point","filled":true,"size":6,"opacity":1},"encoding":{"x":{"field":"x","type":"quantitative"},"y":{"field":"y","type":"quantitative"},"color":{"datum":"No diff GENEs","type":"nominal","scale":{"domain":["Up DEGs","Down DEGs","No diff GENEs"],"range":["#ff0000","#0000ff","#666666"]},"legend":{"orient":"none","legendX":8,"legendY":6,"title":null,"symbolType":"circle","symbolSize":6,"labelFontSize":6.3,"labelColor":"#333","labelFont":"Liberation Sans","rowPadding":4,"labelOffset":5}}}},
{"data":{"name":"bd"},"mark":{"type":"point","filled":true,"size":6,"opacity":1},"encoding":{"x":{"field":"x","type":"quantitative"},"y":{"field":"y","type":"quantitative"},"color":{"datum":"Down DEGs","type":"nominal"}}},
{"data":{"name":"bu"},"mark":{"type":"point","filled":true,"size":6,"opacity":1},"encoding":{"x":{"field":"x","type":"quantitative"},"y":{"field":"y","type":"quantitative"},"color":{"datum":"Up DEGs","type":"nominal"}}},
{"data":{"values":[{"x":-1},{"x":1}]},"mark":{"type":"rule","color":"#b5b5b5","strokeDash":[5,3],"strokeWidth":1.1},"encoding":{"x":{"field":"x","type":"quantitative"}}},
{"data":{"values":[{"y":1.3}]},"mark":{"type":"rule","color":"#b5b5b5","strokeDash":[5,3],"strokeWidth":1.1},"encoding":{"y":{"field":"y","type":"quantitative"}}},
{"data":{"values":[{"x":-10.87,"y":3.59,"t":"B"}]},"mark":{"type":"text","fontSize":13,"fontWeight":"bold","color":"#000","font":"Liberation Serif"},"encoding":{"x":{"field":"x","type":"quantitative"},"y":{"field":"y","type":"quantitative"},"text":{"field":"t"}}}
]},
{"width":161.3,"height":219.7,"view":{"stroke":"#7a7a7a"},"layer":[
{"data":{"name":"cG"},"mark":{"type":"area","color":"#666"},"encoding":{"x":{"field":"x","type":"quantitative","scale":{"domain":[-6.53,6.48],"nice":false,"zero":false},"axis":{"values":[-6,-3,0,3,6],"title":"log2 Fold Change"}},"y":{"field":"l","type":"quantitative","scale":{"domain":[-4,86],"nice":false,"zero":false},"axis":{"values":[0,20,40,60,80],"title":"-log10 FDR p-value"}},"y2":{"field":"h"}}},
{"data":{"name":"cB"},"mark":{"type":"area","color":"#0000ff"},"encoding":{"x":{"field":"x","type":"quantitative"},"y":{"field":"l","type":"quantitative"},"y2":{"field":"h"}}},
{"data":{"name":"cR"},"mark":{"type":"area","color":"#ff0000"},"encoding":{"x":{"field":"x","type":"quantitative"},"y":{"field":"l","type":"quantitative"},"y2":{"field":"h"}}},
{"data":{"name":"cn"},"mark":{"type":"point","filled":true,"size":6,"opacity":1},"encoding":{"x":{"field":"x","type":"quantitative"},"y":{"field":"y","type":"quantitative"},"color":{"datum":"No diff GENEs","type":"nominal","scale":{"domain":["Up DEGs","Down DEGs","No diff GENEs"],"range":["#ff0000","#0000ff","#666666"]},"legend":{"orient":"none","legendX":8,"legendY":6,"title":null,"symbolType":"circle","symbolSize":6,"labelFontSize":6.3,"labelColor":"#333","labelFont":"Liberation Sans","rowPadding":4,"labelOffset":5}}}},
{"data":{"name":"cd"},"mark":{"type":"point","filled":true,"size":6,"opacity":1},"encoding":{"x":{"field":"x","type":"quantitative"},"y":{"field":"y","type":"quantitative"},"color":{"datum":"Down DEGs","type":"nominal"}}},
{"data":{"name":"cu"},"mark":{"type":"point","filled":true,"size":6,"opacity":1},"encoding":{"x":{"field":"x","type":"quantitative"},"y":{"field":"y","type":"quantitative"},"color":{"datum":"Up DEGs","type":"nominal"}}},
{"data":{"values":[{"x":-1},{"x":1}]},"mark":{"type":"rule","color":"#b5b5b5","strokeDash":[5,3],"strokeWidth":1.1},"encoding":{"x":{"field":"x","type":"quantitative"}}},
{"data":{"values":[{"y":1.3}]},"mark":{"type":"rule","color":"#b5b5b5","strokeDash":[5,3],"strokeWidth":1.1},"encoding":{"y":{"field":"y","type":"quantitative"}}},
{"data":{"values":[{"x":-8.04,"y":88.6,"t":"C"}]},"mark":{"type":"text","fontSize":13,"fontWeight":"bold","color":"#000","font":"Liberation Serif"},"encoding":{"x":{"field":"x","type":"quantitative"},"y":{"field":"y","type":"quantitative"},"text":{"field":"t"}}}
]}
]}]}]},
{"bounds":"flush","spacing":33,"resolve":{"scale":{"color":"independent"},"legend":{"color":"independent"}},"hconcat":[
{"width":352,"height":460,"layer":[
{"data":{"name":"ven"},"mark":{"type":"point","filled":true,"fillOpacity":0.6,"stroke":"#111","strokeWidth":1,"strokeOpacity":1,"size":18660},"encoding":{"x":{"field":"x","type":"quantitative","scale":{"domain":[33,385],"nice":false,"zero":false},"axis":null},"y":{"field":"y","type":"quantitative","scale":{"domain":[715,255],"nice":false,"zero":false},"axis":null},"fill":{"field":"k","type":"nominal","scale":{"domain":["dT","dL","dR","eT","eL","eR"],"range":["#919191","#1f78b4","#e95508","#dad7da","#c3d0e4","#f7caa8"]},"legend":null},"opacity":{"value":1}}},
{"data":{"name":"vt"},"mark":{"type":"text","fontSize":9,"color":"#333","font":"Liberation Sans"},"encoding":{"x":{"field":"x","type":"quantitative"},"y":{"field":"y","type":"quantitative"},"text":{"field":"t"}}},
{"data":{"name":"vl"},"mark":{"type":"text","fontSize":9,"fontWeight":"bold","color":"#222","font":"Liberation Sans"},"encoding":{"x":{"field":"x","type":"quantitative"},"y":{"field":"y","type":"quantitative"},"text":{"field":"t"}}},
{"data":{"name":"lt"},"mark":{"type":"text","fontSize":13,"fontWeight":"bold","color":"#000","font":"Liberation Serif"},"encoding":{"x":{"field":"x","type":"quantitative"},"y":{"field":"y","type":"quantitative"},"text":{"field":"t"}}}
]},
{"width":312,"height":450,"resolve":{"scale":{"color":"independent"}},"layer":[
{"data":{"name":"hm"},"mark":{"type":"rect"},"encoding":{"x":{"field":"a","type":"quantitative","scale":{"domain":[0,55],"nice":false,"zero":false},"axis":null},"x2":{"field":"b"},"y":{"field":"s","type":"quantitative","scale":{"domain":[89,-2.23],"nice":false,"zero":false},"axis":null},"y2":{"field":"e"},"color":{"field":"v","type":"quantitative","scale":{"domain":[-4,0,4],"range":["#00ff00","#000000","#ff0000"],"clamp":true,"interpolate":"rgb"},"legend":{"orient":"none","legendX":342,"legendY":8,"title":null,"gradientLength":39,"gradientThickness":3,"labelFontSize":2.5,"labelColor":"#555","tickCount":5,"labelOffset":1,"gradientStrokeWidth":0}}}},
{"data":{"name":"ann"},"mark":{"type":"rect"},"encoding":{"x":{"field":"a","type":"quantitative"},"x2":{"field":"b"},"y":{"field":"s","type":"quantitative"},"y2":{"field":"e"},"color":{"field":"k","type":"nominal","scale":{"domain":["Tumor","Normal"],"range":["#0fd0dc","#f8928c"]},"legend":null}}},
{"data":{"name":"tree"},"mark":{"type":"rule","color":"#8a8a8a","strokeWidth":0.5},"encoding":{"x":{"field":"a","type":"quantitative"},"x2":{"field":"b"},"y":{"field":"s","type":"quantitative"},"y2":{"field":"e"}}},
{"data":{"name":"gn"},"mark":{"type":"text","fontSize":3,"align":"left","color":"#444","font":"Liberation Sans"},"encoding":{"x":{"datum":55.3},"y":{"field":"r","type":"quantitative"},"text":{"field":"g"}}},
{"data":{"name":"annt"},"mark":{"type":"text","align":"left","font":"Liberation Sans","color":"#444","fontSize":2.2},"encoding":{"x":{"field":"c","type":"quantitative"},"y":{"field":"r","type":"quantitative"},"text":{"field":"t"}}},
{"data":{"values":[{"c":-5,"r":0.85,"t":"F"}]},"mark":{"type":"text","align":"left","font":"Liberation Serif","fontWeight":"bold","color":"#000","fontSize":13},"encoding":{"x":{"field":"c","type":"quantitative"},"y":{"field":"r","type":"quantitative"},"text":{"field":"t"}}}
]}
]}
]}
